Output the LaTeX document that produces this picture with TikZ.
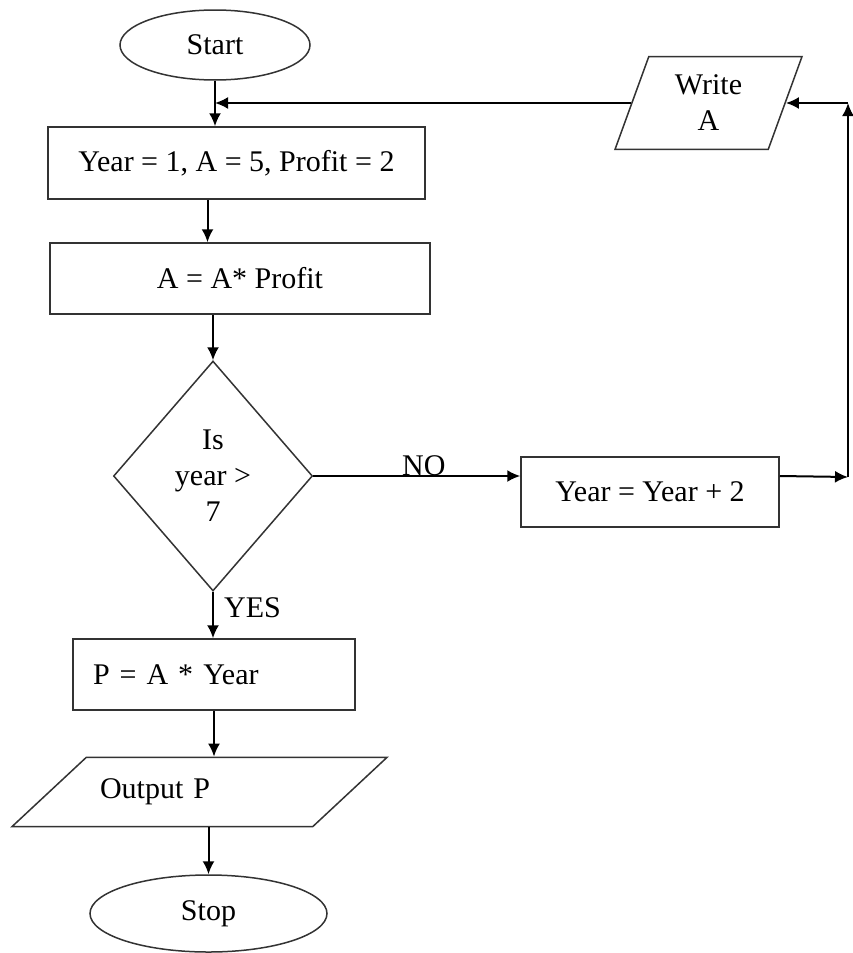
\documentclass[tikz,border=0pt]{standalone}
\usepackage{fontspec}
\setmainfont{Liberation Serif}
\usetikzlibrary{shapes.geometric,arrows.meta,calc}
\begin{document}
\begin{tikzpicture}[x=1pt,y=-1pt,
  every node/.style={font=\fontsize{30}{36}\selectfont},
  shp/.style={draw=black!80, line width=1.5pt, inner sep=0pt},
  term/.style={shp, ellipse},
  proc/.style={shp, rectangle},
  dec/.style={shp, diamond, align=center},
  io/.style={shp, trapezium, trapezium stretches body},
  conn/.style={draw=black, line width=2pt, -{Latex[length=13pt,width=12pt]}},
  lbl/.style={inner sep=0pt}
]
\path[fill=white] (0,0) rectangle (853,953);
\useasboundingbox (0,0) rectangle (853,953);

\node[term, minimum width=190pt, minimum height=70pt] (start) at (215,45) {Start};
\node[proc, minimum width=377pt, minimum height=72pt] (b1) at (236.5,163) {Year = 1, A = 5, Profit = 2};
\node[proc, minimum width=380pt, minimum height=71pt] (b2) at (240,278.5) {A = A* Profit};
\node[dec, minimum width=199pt, minimum height=230pt] (dec) at (213,476) {Is\\year >\\7};
\node[proc, minimum width=258pt, minimum height=70pt] (b3) at (650,492) {Year = Year + 2};
\node[io, trapezium left angle=70, trapezium right angle=110, inner ysep=18.5pt, minimum width=187pt, align=center] (write) at (708.5,103) {Write\\A};
\node[proc, minimum width=282pt, minimum height=71pt, text width=242pt, align=left] (pb) at (214,674.5) {P = A * Year};
\node[io, trapezium left angle=43, trapezium right angle=137, inner ysep=21.5pt, minimum width=375pt, text width=199pt, align=left] (outp) at (199.5,792) {Output P};
\node[term, minimum width=237pt, minimum height=77pt] (stop) at (208.5,913.5) {Stop};

\node[lbl, anchor=base west] (no) at (402,475) {NO};
\node[lbl, anchor=west] (yes) at (224,608) {YES};

\coordinate (j) at (start.south |- write.west);
\coordinate (c1) at (848,477);
\coordinate (c2) at (c1 |- write.east);

\draw[conn] (start.south) -- (start.south |- b1.north);
\draw[conn] (write.west) -- (j);
\draw[conn] ([xshift=-29pt]b1.south) -- ([xshift=-29pt]b1.south |- b2.north);
\draw[conn] (dec.north |- b2.south) -- (dec.north);
\draw[conn] (dec.east) -- (dec.east -| b3.west);
\draw[conn] (b3.east |- dec.east) -- (c1);
\draw[conn] (c1) -- (c2);
\draw[conn] (c2) -- (write.east);
\draw[conn] (dec.south) -- (dec.south |- pb.north);
\draw[conn] (pb.south) -- (pb.south |- outp.north);
\draw[conn] (stop.north |- outp.south) -- (stop.north);
\end{tikzpicture}
\end{document}
